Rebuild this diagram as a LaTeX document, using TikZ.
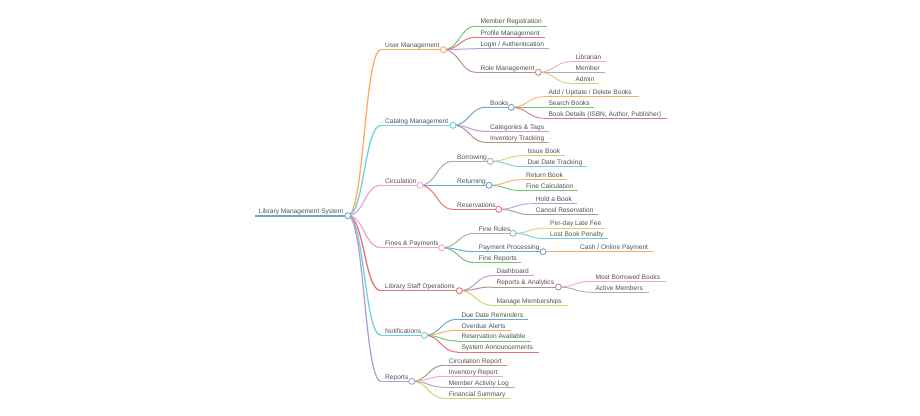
\documentclass[tikz,border=0pt]{standalone}
\usepackage{fontspec}
\setmainfont{Liberation Sans}
\usetikzlibrary{calc}
\definecolor{c0}{HTML}{1F77B4}
\definecolor{c1}{HTML}{FF7F0E}
\definecolor{c2}{HTML}{2CA02C}
\definecolor{c3}{HTML}{D62728}
\definecolor{c4}{HTML}{9467BD}
\definecolor{c5}{HTML}{8C564B}
\definecolor{c6}{HTML}{E377C2}
\definecolor{c7}{HTML}{7F7F7F}
\definecolor{c8}{HTML}{BCBD22}
\definecolor{c9}{HTML}{17BECF}
\definecolor{txt}{HTML}{505050}
\tikzset{
  k0/.style={draw=c0!65!white}, k1/.style={draw=c1!65!white},
  k2/.style={draw=c2!65!white}, k3/.style={draw=c3!65!white},
  k4/.style={draw=c4!65!white}, k5/.style={draw=c5!65!white},
  k6/.style={draw=c6!65!white}, k7/.style={draw=c7!65!white},
  k8/.style={draw=c8!65!white}, k9/.style={draw=c9!65!white},
  lwA/.style={line width=1.8pt}, lwB/.style={line width=1.3pt},
  lwC/.style={line width=1pt}, lwD/.style={line width=0.9pt},
  lbl/.style={anchor=base west, inner sep=0pt, text=txt, font=\fontsize{6.6pt}{7pt}\selectfont},
  knob/.style={circle, fill=white, line width=0.9pt, minimum size=6pt, inner sep=0pt}
}
% name, x0, y, x1, style, text
\newcommand{\mm}[6]{%
  \coordinate (#1-s) at (#2,#3);
  \coordinate (#1-e) at (#4,#3);
  \draw[#5] (#1-s) -- (#1-e);
  \node[lbl] (#1) at ({#2+4},{#3-2.3}) {#6};
}
% parent, child, style
\newcommand{\mmlink}[3]{%
  \draw[#3] let \p1=(#1-e), \p2=(#2-s) in (\p1) .. controls ({(\x1+\x2)/2},\y1) and ({(\x1+\x2)/2},\y2) .. (\p2);
}
\newcommand{\mmknob}[2]{\node[knob,#2] at (#1-e) {};}
\begin{document}
\begin{tikzpicture}[x=1pt,y=-1pt]
\useasboundingbox (0,0) rectangle (920,415);
% ---- nodes ----
\mm{root}{254.7}{215.7}{347.7}{k0,lwA}{Library Management System}
% level 1
\mm{um}{381}{49.7}{443.3}{k1,lwB}{User Management}
\mm{cm}{381}{125.3}{453}{k9,lwB}{Catalog Management}
\mm{ci}{381}{185.3}{420}{k6,lwB}{Circulation}
\mm{fp}{381}{247.7}{441.7}{k6,lwB}{Fines \& Payments}
\mm{so}{381}{290.7}{459.3}{k3,lwB}{Library Staff Operations}
\mm{no}{381}{335.3}{424.3}{k9,lwB}{Notifications}
\mm{re}{381}{381.3}{411.7}{k4,lwB}{Reports}
% user management
\mm{umr}{476.3}{26}{546.7}{k2,lwC}{Member Registration}
\mm{ump}{476.3}{37.3}{544.7}{k3,lwC}{Profile Management}
\mm{uml}{476.3}{48.7}{549}{k4,lwC}{Login / Authentication}
\mm{umo}{476.3}{72.3}{538.3}{k5,lwC}{Role Management}
\mm{umol}{571.3}{61.7}{605.7}{k6,lwD}{Librarian}
\mm{umom}{571.3}{72.3}{604.7}{k7,lwD}{Member}
\mm{umoa}{571.3}{83.3}{598.7}{k8,lwD}{Admin}
% catalog
\mm{cmb}{486}{107.3}{511.3}{k0,lwC}{Books}
\mm{cmc}{486}{131.3}{549}{k4,lwC}{Categories \& Tags}
\mm{cmi}{486}{142.3}{549}{k5,lwC}{Inventory Tracking}
\mm{cmba}{544.3}{96.7}{639}{k1,lwD}{Add / Update / Delete Books}
\mm{cmbs}{544.3}{107.3}{594.3}{k2,lwD}{Search Books}
\mm{cmbd}{544.3}{118.3}{666.7}{k3,lwD}{Book Details (ISBN, Author, Publisher)}
% circulation
\mm{cib}{453}{161.3}{490.3}{k7,lwC}{Borrowing}
\mm{cir}{453}{185.3}{489}{k0,lwC}{Returning}
\mm{cis}{453}{209.3}{498.7}{k3,lwC}{Reservations}
\mm{cibi}{523.3}{155.7}{564.7}{k8,lwD}{Issue Book}
\mm{cibd}{523.3}{166.7}{587}{k9,lwD}{Due Date Tracking}
\mm{cirr}{522}{179.7}{566.7}{k1,lwD}{Return Book}
\mm{cirf}{522}{190.7}{577.7}{k2,lwD}{Fine Calculation}
\mm{cish}{531.7}{203.7}{576.7}{k4,lwD}{Hold a Book}
\mm{cisc}{531.7}{214.7}{597.7}{k5,lwD}{Cancel Reservation}
% fines
\mm{fpr}{474.7}{233.3}{513}{k7,lwC}{Fine Rules}
\mm{fpp}{474.7}{251.7}{543}{k0,lwC}{Payment Processing}
\mm{fpf}{474.7}{262.7}{521}{k2,lwC}{Fine Reports}
\mm{fprl}{546}{228}{605.3}{k8,lwD}{Per-day Late Fee}
\mm{fprp}{546}{238.7}{607.7}{k9,lwD}{Lost Book Penalty}
\mm{fppc}{576}{251.7}{652.7}{k1,lwD}{Cash / Online Payment}
% staff operations
\mm{sod}{492.3}{275.7}{534}{k4,lwC}{Dashboard}
\mm{soa}{492.3}{287}{558.3}{k5,lwC}{Reports \& Analytics}
\mm{som}{492.3}{305.3}{568}{k8,lwC}{Manage Memberships}
\mm{soab}{591.3}{281.3}{665.7}{k6,lwD}{Most Borrowed Books}
\mm{soaa}{591.3}{292.3}{648.7}{k7,lwD}{Active Members}
% notifications
\mm{nod}{457.3}{319.3}{528.3}{k0,lwC}{Due Date Reminders}
\mm{noo}{457.3}{330.3}{511}{k1,lwC}{Overdue Alerts}
\mm{nor}{457.3}{341}{530.7}{k2,lwC}{Reservation Available}
\mm{nos}{457.3}{352}{538.7}{k3,lwC}{System Announcements}
% reports
\mm{rec}{444.7}{365.3}{506.7}{k5,lwC}{Circulation Report}
\mm{rei}{444.7}{376.3}{502.7}{k6,lwC}{Inventory Report}
\mm{rem}{444.7}{387.3}{514.7}{k7,lwC}{Member Activity Log}
\mm{ref}{444.7}{398.3}{509.7}{k8,lwC}{Financial Summary}
% ---- links ----
\mmlink{root}{um}{k1,lwB}
\mmlink{root}{cm}{k9,lwB}
\mmlink{root}{ci}{k6,lwB}
\mmlink{root}{fp}{k6,lwB}
\mmlink{root}{so}{k3,lwB}
\mmlink{root}{no}{k9,lwB}
\mmlink{root}{re}{k4,lwB}
\mmlink{um}{umr}{k2,lwC}
\mmlink{um}{ump}{k3,lwC}
\mmlink{um}{uml}{k4,lwC}
\mmlink{um}{umo}{k5,lwC}
\mmlink{umo}{umol}{k6,lwD}
\mmlink{umo}{umom}{k7,lwD}
\mmlink{umo}{umoa}{k8,lwD}
\mmlink{cm}{cmb}{k0,lwC}
\mmlink{cm}{cmc}{k4,lwC}
\mmlink{cm}{cmi}{k5,lwC}
\mmlink{cmb}{cmba}{k1,lwD}
\mmlink{cmb}{cmbs}{k2,lwD}
\mmlink{cmb}{cmbd}{k3,lwD}
\mmlink{ci}{cib}{k7,lwC}
\mmlink{ci}{cir}{k0,lwC}
\mmlink{ci}{cis}{k3,lwC}
\mmlink{cib}{cibi}{k8,lwD}
\mmlink{cib}{cibd}{k9,lwD}
\mmlink{cir}{cirr}{k1,lwD}
\mmlink{cir}{cirf}{k2,lwD}
\mmlink{cis}{cish}{k4,lwD}
\mmlink{cis}{cisc}{k5,lwD}
\mmlink{fp}{fpr}{k7,lwC}
\mmlink{fp}{fpp}{k0,lwC}
\mmlink{fp}{fpf}{k2,lwC}
\mmlink{fpr}{fprl}{k8,lwD}
\mmlink{fpr}{fprp}{k9,lwD}
\mmlink{fpp}{fppc}{k1,lwD}
\mmlink{so}{sod}{k4,lwC}
\mmlink{so}{soa}{k5,lwC}
\mmlink{so}{som}{k8,lwC}
\mmlink{soa}{soab}{k6,lwD}
\mmlink{soa}{soaa}{k7,lwD}
\mmlink{no}{nod}{k0,lwC}
\mmlink{no}{noo}{k1,lwC}
\mmlink{no}{nor}{k2,lwC}
\mmlink{no}{nos}{k3,lwC}
\mmlink{re}{rec}{k5,lwC}
\mmlink{re}{rei}{k6,lwC}
\mmlink{re}{rem}{k7,lwC}
\mmlink{re}{ref}{k8,lwC}
% ---- knobs ----
\mmknob{root}{k0}
\mmknob{um}{k1}
\mmknob{cm}{k9}
\mmknob{ci}{k6}
\mmknob{fp}{k6}
\mmknob{so}{k3}
\mmknob{no}{k9}
\mmknob{re}{k4}
\mmknob{umo}{k5}
\mmknob{cmb}{k0}
\mmknob{cib}{k7}
\mmknob{cir}{k0}
\mmknob{cis}{k3}
\mmknob{fpr}{k7}
\mmknob{fpp}{k0}
\mmknob{soa}{k5}
\end{tikzpicture}
\end{document}
